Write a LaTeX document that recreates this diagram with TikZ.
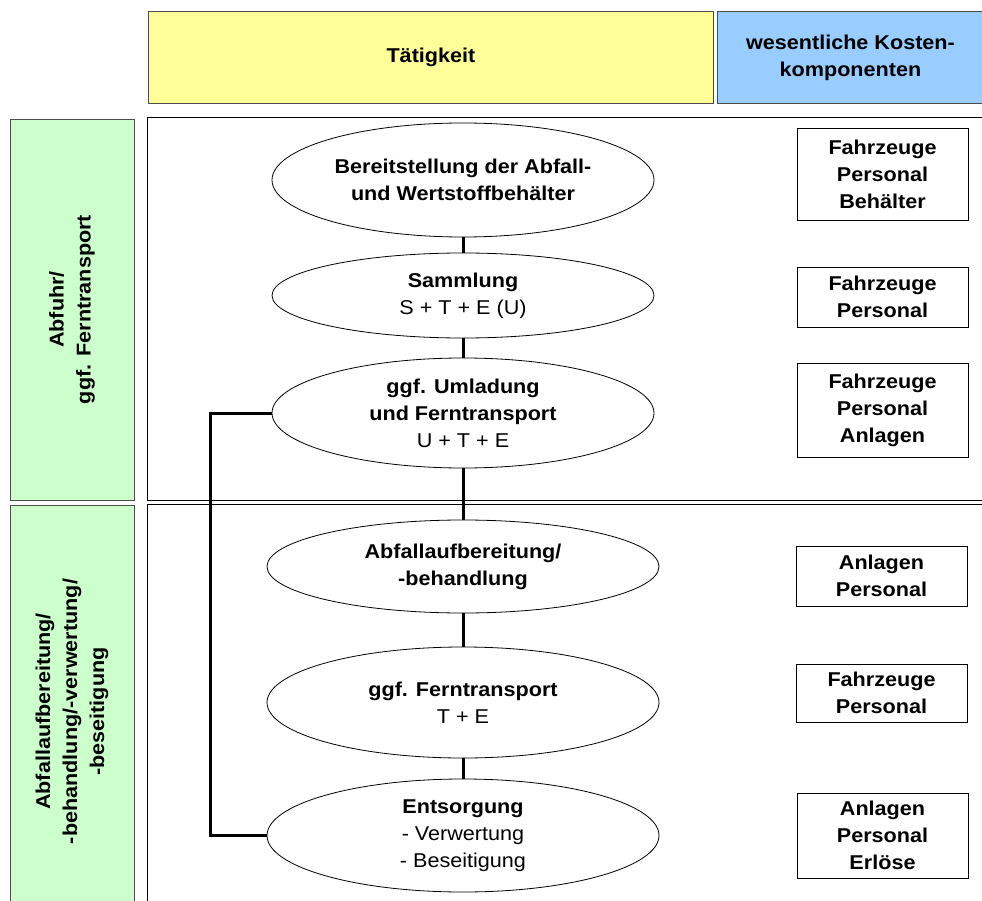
\documentclass[tikz,border=0pt]{standalone}
\usepackage{fontspec}
\setmainfont[FakeStretch=1.08]{Liberation Sans}
\usetikzlibrary{shapes.geometric}
\definecolor{yhdr}{HTML}{FFFF99}
\definecolor{bhdr}{HTML}{99CCFF}
\definecolor{grn}{HTML}{CCFFCC}
\begin{document}
\begin{tikzpicture}[x=1pt,y=1pt,
  every node/.style={font=\fontsize{20}{27}\selectfont\bfseries, align=center},
  act/.style={ellipse, draw, line width=0.8pt, inner sep=0pt},
  cost/.style={rectangle, draw, line width=0.9pt, minimum width=171pt, inner sep=0pt},
  link/.style={line width=3pt},
  hdr/.style={draw=black!70, line width=0.9pt, inner sep=0pt},
  panel/.style={draw, line width=0.9pt, fill=white, inner sep=0pt},
  side/.style={draw=black!70, line width=0.9pt, fill=grn, inner sep=0pt, rotate=90}
  ]
\useasboundingbox (0,0) rectangle (982,-901);
\fill[white] (0,0) rectangle (982,-901);
% header
\node[hdr, fill=yhdr, minimum width=565pt, minimum height=92pt, anchor=north west] (tat) at (148,-11) {T\"atigkeit};
\node[hdr, fill=bhdr, minimum width=266pt, minimum height=92pt, anchor=north west] (kost) at (717,-11) {wesentliche Kosten-\\komponenten};
% side labels
\node[side, minimum width=381pt, minimum height=124pt] (g1) at (72,-309.5) {Abfuhr/\\ggf. Ferntransport};
\node[side, minimum width=413pt, minimum height=124pt] (g2) at (72,-711.5) {Abfallaufbereitung/\\-behandlung/-verwertung/\\-beseitigung};
% panels
\node[panel, anchor=north west, minimum width=840pt, minimum height=383pt] (p1) at (147,-117) {};
\node[panel, anchor=north west, minimum width=840pt, minimum height=420pt] (p2) at (147,-504) {};
% activities
\node[act, minimum width=382pt, minimum height=114pt] (e1) at (463,-180) {Bereitstellung der Abfall-\\und Wertstoffbeh\"alter};
\node[act, minimum width=382pt, minimum height=85pt] (e2) at (463,-295.5) {Sammlung\\{\mdseries S + T + E (U)}};
\node[act, minimum width=382pt, minimum height=110pt] (e3) at (463,-413) {ggf. Umladung\\und Ferntransport\\{\mdseries U + T + E}};
\node[act, minimum width=392pt, minimum height=93pt] (e4) at (463,-566.5) {Abfallaufbereitung/\\-behandlung};
\node[act, minimum width=392pt, minimum height=111pt] (e5) at (463,-702.5) {ggf. Ferntransport\\{\mdseries T + E}};
\node[act, minimum width=392pt, minimum height=113pt] (e6) at (463,-835.5) {Entsorgung\\{\mdseries - Verwertung}\\{\mdseries - Beseitigung}};
% cost components
\node[cost, minimum height=92pt] (b1) at (882.5,-174) {Fahrzeuge\\Personal\\Beh\"alter};
\node[cost, minimum height=60pt] (b2) at (882.5,-297) {Fahrzeuge\\Personal};
\node[cost, minimum height=94pt] (b3) at (882.5,-410) {Fahrzeuge\\Personal\\Anlagen};
\node[cost, minimum height=60pt] (b4) at (881.5,-576) {Anlagen\\Personal};
\node[cost, minimum height=58pt] (b5) at (881.5,-693) {Fahrzeuge\\Personal};
\node[cost, minimum height=85pt] (b6) at (882.5,-835.5) {Anlagen\\Personal\\Erl\"ose};
% connectors
\draw[link] (e1) -- (e2);
\draw[link] (e2) -- (e3);
\draw[link] (e3) -- (e4);
\draw[link] (e4) -- (e5);
\draw[link] (e5) -- (e6);
\draw[link] (e3.west) -- ++(-61,0) |- (e6.west);
\end{tikzpicture}
\end{document}
